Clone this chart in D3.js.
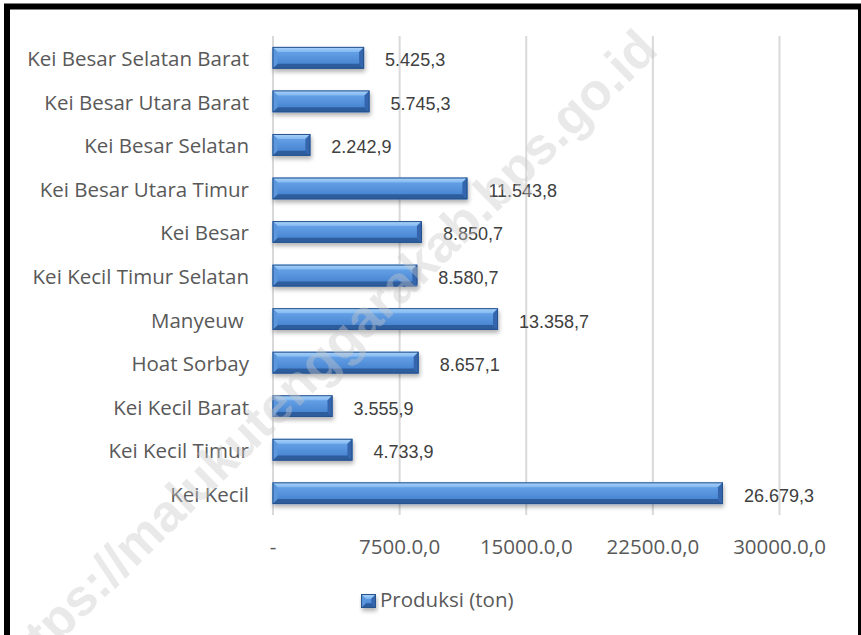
<!DOCTYPE html>
<html>
<head>
<meta charset="utf-8">
<script src="https://cdn.jsdelivr.net/npm/d3@7"></script>
<style>
  html, body { margin: 0; padding: 0; background: #fff; }
  svg { display: block; }
</style>
</head>
<body>
<svg id="chart" width="861" height="635"></svg>
<script>
// ---- data ----
const categories = [
  "Kei Besar Selatan Barat",
  "Kei Besar Utara Barat",
  "Kei Besar Selatan",
  "Kei Besar Utara Timur",
  "Kei Besar",
  "Kei Kecil Timur Selatan",
  "Manyeuw ",
  "Hoat Sorbay",
  "Kei Kecil Barat",
  "Kei Kecil Timur",
  "Kei Kecil"
];
const produksi = [5425.3, 5745.3, 2242.9, 11543.8, 8850.7, 8580.7, 13358.7, 8657.1, 3555.9, 4733.9, 26679.3];
const tickValues = [0, 7500, 15000, 22500, 30000];
const tickLabels = ["-", "7500.0,0", "15000.0,0", "22500.0,0", "30000.0,0"];
const seriesName = "Produksi (ton)";
const watermark = "https://malukutenggarakab.bps.go.id";

// ---- layout ----
const W = 861, H = 635;
const plot = { left: 272.5, right: 779, top: 36, bottom: 515 };
const svg = d3.select("#chart");
const uiFont = "'Open Sans', Lato, sans-serif";
const uiSize = "20.5px";

const idLocale = d3.formatLocale({ decimal: ",", thousands: ".", grouping: [3], currency: ["", ""] });
const fmt = idLocale.format(",.1f");

const x = d3.scaleLinear().domain([0, 30000]).range([plot.left, plot.right]);
const y = d3.scaleBand().domain(categories).range([plot.top, plot.bottom])
  .paddingInner(0.5).paddingOuter(0.25);

const defs = svg.append("defs");
const grad = defs.append("linearGradient").attr("id", "barGrad")
  .attr("x1", 0).attr("y1", 0).attr("x2", 0).attr("y2", 1);
grad.append("stop").attr("offset", "0%").attr("stop-color", "#6eaaee");
grad.append("stop").attr("offset", "100%").attr("stop-color", "#3f7cca");
const topGrad = defs.append("linearGradient").attr("id", "topGrad")
  .attr("x1", 0).attr("y1", 0).attr("x2", 0).attr("y2", 1);
topGrad.append("stop").attr("offset", "0%").attr("stop-color", "#acd4fb");
topGrad.append("stop").attr("offset", "100%").attr("stop-color", "#82b8f0");
const sh = defs.append("filter").attr("id", "shadow")
  .attr("x", "-10%").attr("y", "-30%").attr("width", "130%").attr("height", "180%");
sh.append("feDropShadow").attr("dx", 1).attr("dy", 3).attr("stdDeviation", 2)
  .attr("flood-color", "#000").attr("flood-opacity", 0.3);

// ---- gridlines / axis ----
const xAxis = d3.axisBottom(x).tickValues(tickValues).tickSize(plot.bottom - plot.top)
  .tickFormat((d, i) => tickLabels[i]);
const gx = svg.append("g").attr("transform", `translate(0,${plot.top})`).call(xAxis);
gx.select(".domain").remove();
gx.selectAll(".tick line").attr("stroke", "#d9d9d9").attr("stroke-width", 2);
gx.selectAll(".tick text")
  .attr("y", plot.bottom - plot.top + 39).attr("dy", 0)
  .attr("fill", "#595959")
  .style("font-family", uiFont)
  .style("font-size", uiSize);

// ---- bars ----
function bevelBar(g, x0, x1, y0, h) {
  const b = Math.min(5, (x1 - x0) / 3, h / 3);
  const y1 = y0 + h;
  g.append("rect").attr("x", x0).attr("y", y0).attr("width", x1 - x0).attr("height", h)
    .attr("fill", "url(#barGrad)");
  const poly = (pts, fill) => g.append("polygon")
    .attr("points", pts.map(p => p.join(",")).join(" ")).attr("fill", fill);
  poly([[x0, y0], [x1, y0], [x1 - b, y0 + b], [x0 + b, y0 + b]], "url(#topGrad)");
  poly([[x0, y1], [x1, y1], [x1 - b, y1 - b], [x0 + b, y1 - b]], "#2e5d9e");
  poly([[x0, y0], [x0 + b, y0 + b], [x0 + b, y1 - b], [x0, y1]], "#5b97dd");
  poly([[x1, y0], [x1 - b, y0 + b], [x1 - b, y1 - b], [x1, y1]], "#3466ad");
  g.append("rect").attr("x", x0 + 0.5).attr("y", y0 + 0.5)
    .attr("width", Math.max(0, x1 - x0 - 1)).attr("height", h - 1)
    .attr("fill", "none").attr("stroke", "#27528c").attr("stroke-width", 1);
}

const bars = svg.append("g").attr("filter", "url(#shadow)");
categories.forEach((c, i) => {
  const g = bars.append("g");
  bevelBar(g, x(0), x(produksi[i]), y(c), y.bandwidth());
});

// ---- value labels ----
svg.append("g").selectAll("text").data(categories).join("text")
  .attr("x", (c, i) => x(produksi[i]) + 21)
  .attr("y", c => y(c) + y.bandwidth() / 2 + 8.5)
  .attr("fill", "#404040")
  .style("font-family", "'Liberation Sans', Arial, sans-serif")
  .style("font-size", "18px")
  .text((c, i) => fmt(produksi[i]));

// ---- category labels ----
svg.append("g").selectAll("text").data(categories).join("text")
  .attr("x", 249)
  .attr("y", c => y(c) + y.bandwidth() / 2 + 8.5)
  .attr("text-anchor", "end")
  .attr("fill", "#595959")
  .style("white-space", "pre")
  .style("font-family", uiFont)
  .style("font-size", uiSize)
  .text(c => c);

// ---- legend ----
const lg = svg.append("g").attr("filter", "url(#shadow)");
bevelBar(lg, 361, 376, 594, 14);
svg.append("text").attr("x", 380).attr("y", 607)
  .attr("fill", "#595959")
  .style("font-family", uiFont)
  .style("font-size", uiSize)
  .text(seriesName);

// ---- watermark ----
svg.append("text")
  .attr("transform", "translate(660,52) rotate(-44.5)")
  .attr("text-anchor", "end")
  .attr("fill", "#c8c8c8").attr("fill-opacity", 0.4)
  .style("font-family", "'Liberation Sans', Arial, sans-serif")
  .style("font-weight", "bold")
  .style("font-size", "52px")
  .text(watermark);

// ---- frame ----
svg.append("rect").attr("x", 7).attr("y", 6.5).attr("width", 854).attr("height", 700)
  .attr("fill", "none").attr("stroke", "#000").attr("stroke-width", 6);
</script>
</body>
</html>
